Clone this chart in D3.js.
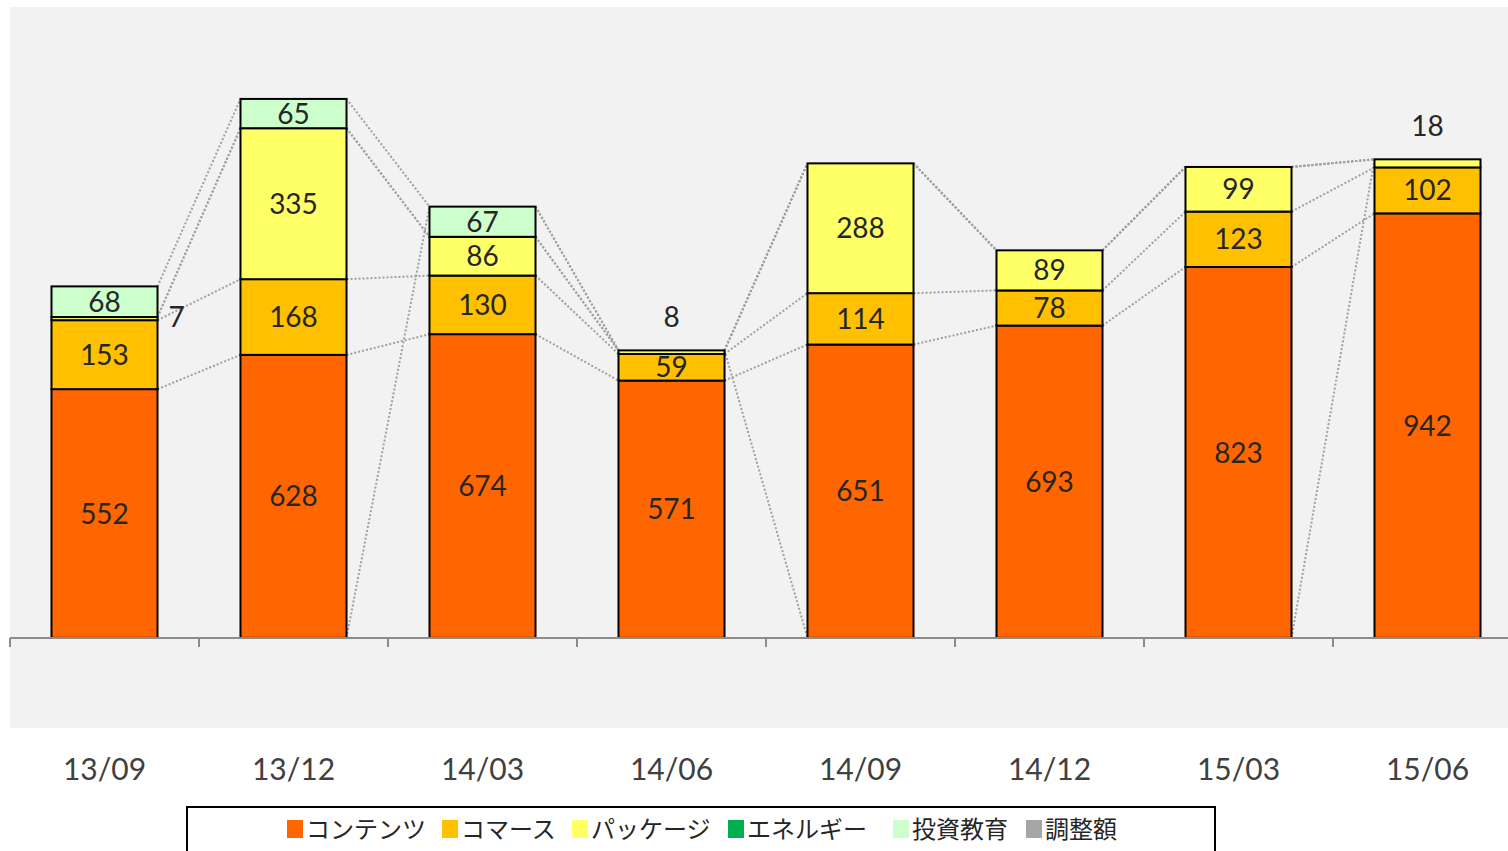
<!DOCTYPE html>
<html>
<head>
<meta charset="utf-8">
<script src="https://cdn.jsdelivr.net/npm/d3@7"></script>
<style>
  html, body { margin: 0; padding: 0; background: #ffffff; }
  svg { display: block; }
  text { font-family: "Noto Sans CJK JP", "Noto Sans", sans-serif; }
  .num { font-family: Lato, "Noto Sans", sans-serif; }
</style>
</head>
<body>
<svg id="chart" width="1508" height="851"></svg>
<script>
// Quarterly segment figures (null = no entry for that quarter)
const categories = ["13/09", "13/12", "14/03", "14/06", "14/09", "14/12", "15/03", "15/06"];
const seriesNames = ["コンテンツ", "コマース", "パッケージ", "エネルギー", "投資教育", "調整額"];
const contents   = [552, 628, 674, 571, 651, 693, 823, 942];
const commerce   = [153, 168, 130, 59, 114, 78, 123, 102];
const packageSeg = [7, 335, 86, 8, 288, 89, 99, 18];
const energy     = [0, 0, 0, 0, 0, 0, 0, 0];
const investEdu  = [68, 65, 67, 0, 0, 0, 0, 0];
const adjustment = [null, null, 0, 0, null, null, null, 0];
const seriesColors = ["#FF6600", "#FFC000", "#FFFF66", "#00B050", "#CCFFCC", "#A6A6A6"];
const yDomain = [-200, 1400];

const seriesValues = [contents, commerce, packageSeg, energy, investEdu, adjustment];

const svg = d3.select("#chart");
const plot = { left: 10, top: 7, right: 1522, bottom: 728 };

const x = d3.scaleBand()
  .domain(categories)
  .range([plot.left, plot.right])
  .paddingInner(0.439)
  .paddingOuter(0.2195);

const y = d3.scaleLinear().domain(yDomain).range([plot.bottom, plot.top]);

// plot area background
svg.append("rect")
  .attr("x", plot.left).attr("y", plot.top)
  .attr("width", plot.right - plot.left).attr("height", plot.bottom - plot.top)
  .attr("fill", "#F2F2F2");

// stacked segments
const segments = [];
categories.forEach((c, j) => {
  let acc = 0;
  seriesValues.forEach((vals, k) => {
    const v = vals[j];
    const y0 = acc;
    const y1 = acc + (v || 0);
    acc = y1;
    segments.push({ cat: c, j, k, v, y0, y1 });
  });
});

// series lines joining each series' stack top between neighbouring bars
const topOf = (k, j) => {
  if (seriesValues[k][j] === null) return 0;
  let s = 0;
  for (let i = 0; i <= k; i++) s += seriesValues[i][j] || 0;
  return s;
};
const lineData = [];
seriesValues.forEach((vals, k) => {
  for (let j = 0; j < categories.length - 1; j++) {
    lineData.push({
      x1: x(categories[j]) + x.bandwidth(), y1: topOf(k, j),
      x2: x(categories[j + 1]), y2: topOf(k, j + 1)
    });
  }
});
svg.append("g").selectAll("line").data(lineData).join("line")
  .attr("x1", d => d.x1).attr("y1", d => y(d.y1))
  .attr("x2", d => d.x2).attr("y2", d => y(d.y2))
  .attr("stroke", "#A0A0A0").attr("stroke-width", 2)
  .attr("stroke-dasharray", "2,2");

// bars
svg.append("g").selectAll("rect").data(segments.filter(d => d.v > 0)).join("rect")
  .attr("x", d => x(d.cat))
  .attr("y", d => y(d.y1))
  .attr("width", x.bandwidth())
  .attr("height", d => y(d.y0) - y(d.y1))
  .attr("fill", d => seriesColors[d.k])
  .attr("stroke", "#000").attr("stroke-width", 2);

// category axis at zero
const axisG = svg.append("g").attr("transform", `translate(0,${y(0)})`);
axisG.append("line")
  .attr("x1", plot.left).attr("x2", plot.right)
  .attr("stroke", "#8C8C8C").attr("stroke-width", 2);
const tickPos = categories.map(c => x(c) - x.step() * x.paddingInner() / 2);
axisG.selectAll("line.tick").data(tickPos).join("line").attr("class", "tick")
  .attr("x1", d => d).attr("x2", d => d)
  .attr("y1", 0).attr("y2", 9)
  .attr("stroke", "#8C8C8C").attr("stroke-width", 2);

// category labels below the plot area
svg.append("g").selectAll("text").data(categories).join("text")
  .attr("class", "num")
  .attr("x", d => x(d) + x.bandwidth() / 2)
  .attr("y", 769)
  .attr("dy", "0.36em")
  .attr("text-anchor", "middle")
  .attr("font-size", 30)
  .attr("fill", "#404040")
  .text(d => d);

// value labels
const labelData = segments.filter(d => d.v > 0).map(d => {
  const h = y(d.y0) - y(d.y1);
  const cx = x(d.cat) + x.bandwidth() / 2;
  const hasAbove = segments.some(s => s.j === d.j && s.k > d.k && s.v > 0);
  if (h >= 18) return { text: d.v, x: cx, y: (y(d.y0) + y(d.y1)) / 2, anchor: "middle" };
  if (hasAbove) return { text: d.v, x: x(d.cat) + x.bandwidth() + 11, y: (y(d.y0) + y(d.y1)) / 2 - 2, anchor: "start" };
  return { text: d.v, x: cx, y: y(d.y1) - 33, anchor: "middle" };
});
svg.append("g").selectAll("text").data(labelData).join("text")
  .attr("class", "num")
  .attr("x", d => d.x).attr("y", d => d.y)
  .attr("dy", "0.36em")
  .attr("text-anchor", d => d.anchor)
  .attr("font-size", 28)
  .attr("fill", "#262626")
  .text(d => d.text);

// legend
const legend = svg.append("g");
legend.append("rect")
  .attr("x", 187).attr("y", 807).attr("width", 1028).attr("height", 60)
  .attr("fill", "#fff").attr("stroke", "#000").attr("stroke-width", 2);
const legendX = [287, 442, 572, 728, 893, 1026];
const items = legend.selectAll("g.item").data(seriesNames).join("g").attr("class", "item")
  .attr("transform", (d, i) => `translate(${legendX[i]},829)`);
items.append("rect")
  .attr("x", 0).attr("y", -9).attr("width", 16).attr("height", 18)
  .attr("fill", (d, i) => seriesColors[i]);
items.append("text")
  .attr("x", 19).attr("y", 0).attr("dy", "0.36em")
  .attr("font-size", 24).attr("fill", "#262626")
  .text(d => d);
</script>
</body>
</html>
